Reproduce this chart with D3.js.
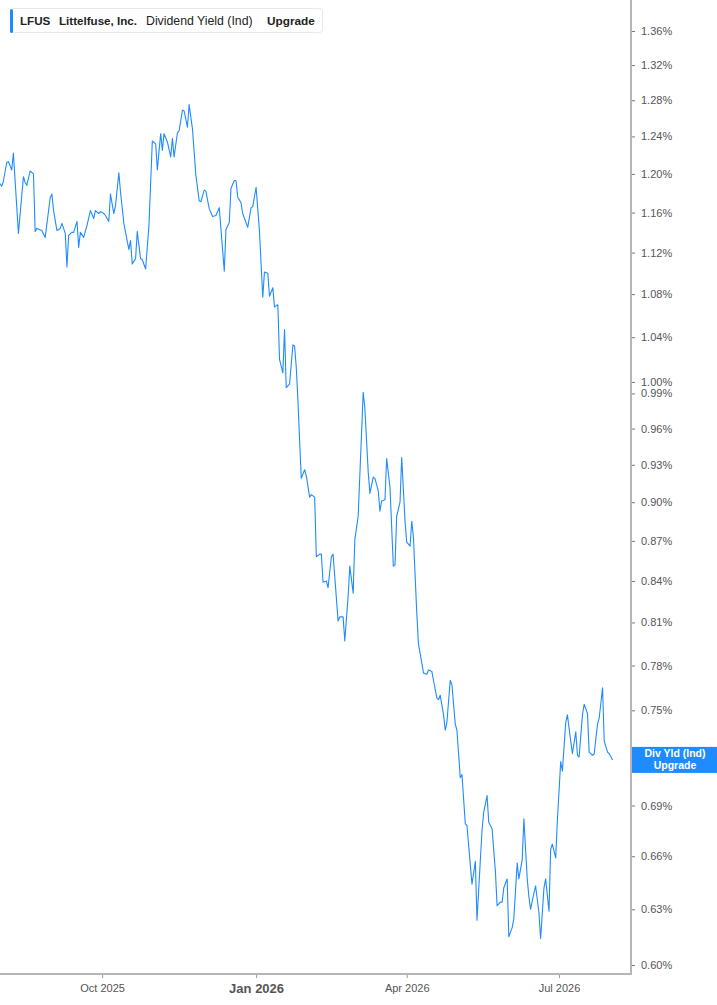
<!DOCTYPE html>
<html>
<head>
<meta charset="utf-8">
<script src="https://cdn.jsdelivr.net/npm/d3@7/dist/d3.min.js"></script>
<style>
  html, body { margin: 0; padding: 0; background: #fff; }
  svg { display: block; font-family: "Liberation Sans", Arial, sans-serif; }
</style>
</head>
<body>
<svg id="chart" width="717" height="1005"></svg>
<script>
// ---- DATA ----
const ticker = "LFUS";
const companyName = "Littelfuse, Inc.";
const metricName = "Dividend Yield (Ind)";
const upgradeText = "Upgrade";
const badgeLines = ["Div Yld (Ind)", "Upgrade"];

const dates = [
"2025-08-01","2025-08-02","2025-08-03","2025-08-05","2025-08-06","2025-08-08","2025-08-09","2025-08-12","2025-08-15","2025-08-16",
"2025-08-17","2025-08-19","2025-08-21","2025-08-22","2025-08-23","2025-08-26","2025-08-28","2025-08-31","2025-09-01","2025-09-02",
"2025-09-04","2025-09-06","2025-09-07","2025-09-09","2025-09-10","2025-09-11","2025-09-13","2025-09-14","2025-09-16","2025-09-17",
"2025-09-18","2025-09-20","2025-09-22","2025-09-24","2025-09-26","2025-09-27","2025-09-29","2025-09-30","2025-10-02","2025-10-03",
"2025-10-05","2025-10-06","2025-10-08","2025-10-09","2025-10-11","2025-10-12","2025-10-14","2025-10-17","2025-10-18","2025-10-19",
"2025-10-21","2025-10-22","2025-10-24","2025-10-25","2025-10-27","2025-10-29","2025-10-31","2025-11-02","2025-11-03","2025-11-05",
"2025-11-06","2025-11-07","2025-11-09","2025-11-11","2025-11-12","2025-11-13","2025-11-15","2025-11-16","2025-11-18","2025-11-19",
"2025-11-21","2025-11-22","2025-11-24","2025-11-26","2025-11-28","2025-11-29","2025-12-01","2025-12-02","2025-12-04","2025-12-06",
"2025-12-08","2025-12-10","2025-12-13","2025-12-14","2025-12-16","2025-12-17","2025-12-19","2025-12-20","2025-12-21","2025-12-23",
"2025-12-24","2025-12-27","2025-12-29","2025-12-30","2026-01-01","2026-01-03","2026-01-05","2026-01-06","2026-01-08","2026-01-09",
"2026-01-11","2026-01-12","2026-01-14","2026-01-15","2026-01-17","2026-01-18","2026-01-19","2026-01-21","2026-01-23","2026-01-24",
"2026-01-25","2026-01-26","2026-01-27","2026-01-28","2026-01-30","2026-01-31","2026-02-02","2026-02-03","2026-02-05","2026-02-06",
"2026-02-08","2026-02-09","2026-02-10","2026-02-12","2026-02-13","2026-02-15","2026-02-16","2026-02-19","2026-02-20","2026-02-22",
"2026-02-23","2026-02-25","2026-02-26","2026-02-28","2026-03-01","2026-03-03","2026-03-06","2026-03-07","2026-03-09","2026-03-10",
"2026-03-12","2026-03-13","2026-03-15","2026-03-16","2026-03-17","2026-03-19","2026-03-20","2026-03-22","2026-03-24","2026-03-25",
"2026-03-26","2026-03-28","2026-03-29","2026-03-31","2026-04-01","2026-04-03","2026-04-04","2026-04-05","2026-04-07","2026-04-08",
"2026-04-10","2026-04-11","2026-04-13","2026-04-14","2026-04-16","2026-04-17","2026-04-19","2026-04-20","2026-04-21","2026-04-23",
"2026-04-24","2026-04-25","2026-04-27","2026-04-28","2026-04-30","2026-05-01","2026-05-03","2026-05-04","2026-05-06","2026-05-07",
"2026-05-09","2026-05-10","2026-05-12","2026-05-13","2026-05-15","2026-05-16","2026-05-17","2026-05-19","2026-05-20","2026-05-22",
"2026-05-24","2026-05-25","2026-05-27","2026-05-28","2026-05-29","2026-05-31","2026-06-01","2026-06-03","2026-06-04","2026-06-06",
"2026-06-07","2026-06-09","2026-06-10","2026-06-12","2026-06-13","2026-06-14","2026-06-16","2026-06-17","2026-06-19","2026-06-20",
"2026-06-22","2026-06-23","2026-06-25","2026-06-26","2026-06-27","2026-06-29","2026-06-30","2026-07-02","2026-07-03","2026-07-05",
"2026-07-06","2026-07-08","2026-07-09","2026-07-11","2026-07-12","2026-07-13","2026-07-15","2026-07-16","2026-07-18","2026-07-19",
"2026-07-21","2026-07-22","2026-07-24","2026-07-25","2026-07-27","2026-07-28","2026-07-30","2026-07-31","2026-08-02"
];

const yieldValues = [
1.190,1.187,1.192,1.212,1.213,1.204,1.222,1.139,1.197,1.191,
1.188,1.203,1.200,1.141,1.144,1.142,1.135,1.175,1.179,1.162,
1.142,1.144,1.149,1.139,1.106,1.137,1.140,1.140,1.151,1.125,
1.140,1.135,1.147,1.162,1.154,1.162,1.159,1.161,1.159,1.157,
1.151,1.179,1.159,1.167,1.201,1.181,1.149,1.123,1.132,1.109,
1.114,1.141,1.114,1.113,1.104,1.147,1.235,1.232,1.204,1.243,
1.225,1.243,1.234,1.218,1.238,1.218,1.244,1.246,1.269,1.268,
1.250,1.275,1.248,1.199,1.172,1.171,1.183,1.182,1.164,1.156,
1.157,1.165,1.102,1.143,1.150,1.185,1.193,1.193,1.176,1.170,
1.159,1.145,1.165,1.166,1.186,1.142,1.077,1.101,1.100,1.078,
1.086,1.068,1.070,1.020,1.008,1.047,0.995,0.998,1.033,1.032,
1.013,0.984,0.950,0.919,0.926,0.921,0.904,0.906,0.904,0.858,
0.860,0.860,0.839,0.840,0.835,0.858,0.860,0.811,0.814,0.814,
0.797,0.829,0.851,0.831,0.871,0.889,0.991,0.977,0.924,0.907,
0.920,0.919,0.909,0.893,0.901,0.902,0.935,0.912,0.851,0.852,
0.889,0.900,0.936,0.885,0.869,0.866,0.885,0.873,0.817,0.795,
0.782,0.775,0.774,0.777,0.776,0.770,0.758,0.757,0.760,0.747,
0.737,0.742,0.770,0.767,0.741,0.737,0.707,0.709,0.679,0.678,
0.655,0.644,0.657,0.624,0.658,0.675,0.686,0.696,0.680,0.676,
0.651,0.632,0.634,0.634,0.642,0.647,0.615,0.620,0.625,0.656,
0.647,0.658,0.682,0.647,0.637,0.630,0.639,0.643,0.628,0.614,
0.642,0.647,0.629,0.664,0.667,0.659,0.681,0.717,0.711,0.742,
0.747,0.730,0.722,0.736,0.721,0.720,0.747,0.754,0.748,0.723,
0.721,0.722,0.741,0.745,0.765,0.730,0.723,0.722,0.718
];

const yTickValues = [1.36,1.32,1.28,1.24,1.20,1.16,1.12,1.08,1.04,1.00,0.99,0.96,0.93,0.90,0.87,0.84,0.81,0.78,0.75,0.72,0.69,0.66,0.63,0.60];
const hiddenYTick = 0.72; // its label sits under the badge in the original
const xTickDates = ["2025-10-01","2026-01-01","2026-04-01","2026-07-01"];
const xTickLabels = ["Oct 2025","Jan 2026","Apr 2026","Jul 2026"];
const xDomain = ["2025-08-01","2026-08-13"];
const yDomain = [0.60, 1.36];

// ---- CHART ----
const W = 717, H = 1005;
const plotRight = 631, plotBottom = 974;
const parse = d3.utcParse("%Y-%m-%d");
const data = dates.map((d, i) => ({ date: parse(d), value: yieldValues[i] }));

const svg = d3.select("#chart");
const x = d3.scaleUtc().domain(xDomain.map(parse)).range([0, plotRight]);
const y = d3.scaleLog().domain(yDomain).range([965, 31]);

const lineColor = "#1f8bff";

svg.append("defs").append("clipPath").attr("id", "plotclip")
  .append("rect").attr("x", 0).attr("y", 0).attr("width", plotRight).attr("height", plotBottom);

// Line
svg.append("path")
  .datum(data)
  .attr("clip-path", "url(#plotclip)")
  .attr("fill", "none")
  .attr("stroke", lineColor)
  .attr("stroke-width", 1.1)
  .attr("stroke-linejoin", "round")
  .attr("d", d3.line().x(d => x(d.date)).y(d => y(d.value)));

// Right axis
const yAxis = d3.axisRight(y)
  .tickValues(yTickValues)
  .tickSize(3)
  .tickPadding(6)
  .tickFormat(d => d === hiddenYTick ? "" : d3.format(".2f")(d) + "%");
const yg = svg.append("g").attr("transform", `translate(${plotRight + 1},0)`).call(yAxis);
yg.select(".domain").remove();
yg.selectAll(".tick line").attr("stroke", "#777").attr("stroke-width", 1);
yg.selectAll(".tick text")
  .attr("fill", "#555")
  .style("font-size", "11px")
  .style("font-family", '"Liberation Sans", Arial, sans-serif');

// Bottom axis
const xAxis = d3.axisBottom(x)
  .tickValues(xTickDates.map(parse))
  .tickSize(4)
  .tickPadding(6)
  .tickFormat((d, i) => xTickLabels[i]);
const xg = svg.append("g").attr("transform", `translate(0,${plotBottom})`).call(xAxis);
xg.select(".domain").remove();
xg.selectAll(".tick line").attr("stroke", "#999").attr("stroke-width", 1);
xg.selectAll(".tick text")
  .attr("fill", "#555")
  .style("font-size", (d, i) => i === 1 ? "13px" : "11px")
  .style("font-weight", (d, i) => i === 1 ? "bold" : "normal")
  .style("font-family", '"Liberation Sans", Arial, sans-serif');

// Axis lines
svg.append("line").attr("x1", plotRight).attr("x2", plotRight).attr("y1", 0).attr("y2", plotBottom + 1)
  .attr("stroke", "#b5b5b5").attr("stroke-width", 2);
svg.append("line").attr("x1", 0).attr("x2", plotRight + 1).attr("y1", plotBottom).attr("y2", plotBottom)
  .attr("stroke", "#b5b5b5").attr("stroke-width", 2);

// Badge at the right
const badgeY = y(hiddenYTick);
const badge = svg.append("g");
badge.append("rect").attr("x", plotRight + 1).attr("y", badgeY - 10).attr("width", W - plotRight - 1).attr("height", 26)
  .attr("fill", "#1e8cff");
badge.selectAll("text").data(badgeLines).join("text")
  .attr("x", 675).attr("y", (d, i) => badgeY + 0.5 + i * 11.5)
  .attr("text-anchor", "middle")
  .attr("fill", "#fff")
  .style("font-size", "10.5px")
  .style("font-weight", "bold")
  .text(d => d);

// Legend box
const lg = svg.append("g");
lg.append("rect").attr("x", 10.5).attr("y", 8.5).attr("width", 312).attr("height", 24).attr("rx", 3)
  .attr("fill", "#fff").attr("stroke", "#e8e8e8");
lg.append("rect").attr("x", 10).attr("y", 9).attr("width", 3).attr("height", 24).attr("rx", 1.5).attr("fill", "#1e8cff");
const legendItems = [
  { text: ticker, x: 20, w: "bold", s: 11.6 },
  { text: companyName, x: 59, w: "bold", s: 11.6 },
  { text: metricName, x: 146, w: "normal", s: 12.3 },
  { text: upgradeText, x: 267, w: "bold", s: 11.8 }
];
lg.selectAll("text.lt").data(legendItems).join("text")
  .attr("class", "lt")
  .attr("x", d => d.x).attr("y", 25)
  .attr("fill", "#222")
  .style("font-size", d => d.s + "px")
  .style("font-weight", d => d.w)
  .style("font-family", '"Liberation Sans", Arial, sans-serif')
  .text(d => d.text);
</script>
</body>
</html>
